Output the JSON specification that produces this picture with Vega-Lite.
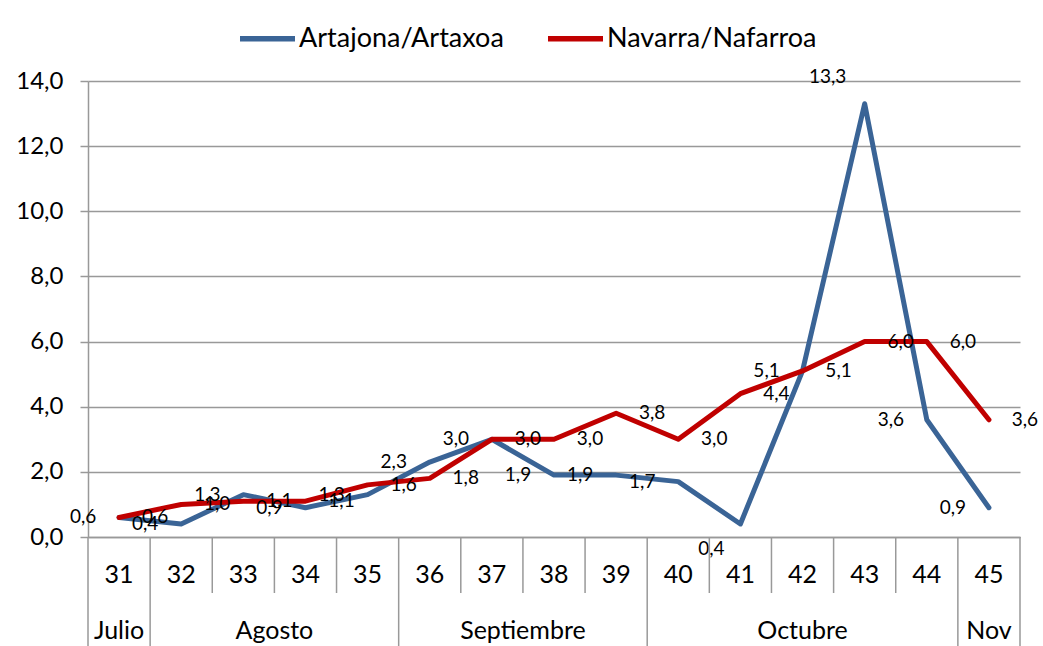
{
  "$schema": "https://vega.github.io/schema/vega-lite/v6.json",
  "padding": {"left": 15, "top": 8, "right": 0, "bottom": 0},
  "bounds": "flush",
  "spacing": 0,
  "config": {
    "locale": {"number": {"decimal": ",", "thousands": ".", "grouping": [3], "currency": ["", " €"]}},
    "view": {"stroke": null},
    "font": "Lato",
    "text": {"font": "Lato", "color": "black"}
  },
  "datasets": {
    "series": [
      {"week": 31, "serie": "Artajona/Artaxoa", "value": 0.6},
      {"week": 32, "serie": "Artajona/Artaxoa", "value": 0.4},
      {"week": 33, "serie": "Artajona/Artaxoa", "value": 1.3},
      {"week": 34, "serie": "Artajona/Artaxoa", "value": 0.9},
      {"week": 35, "serie": "Artajona/Artaxoa", "value": 1.3},
      {"week": 36, "serie": "Artajona/Artaxoa", "value": 2.3},
      {"week": 37, "serie": "Artajona/Artaxoa", "value": 3.0},
      {"week": 38, "serie": "Artajona/Artaxoa", "value": 1.9},
      {"week": 39, "serie": "Artajona/Artaxoa", "value": 1.9},
      {"week": 40, "serie": "Artajona/Artaxoa", "value": 1.7},
      {"week": 41, "serie": "Artajona/Artaxoa", "value": 0.4},
      {"week": 42, "serie": "Artajona/Artaxoa", "value": 5.1},
      {"week": 43, "serie": "Artajona/Artaxoa", "value": 13.3},
      {"week": 44, "serie": "Artajona/Artaxoa", "value": 3.6},
      {"week": 45, "serie": "Artajona/Artaxoa", "value": 0.9},
      {"week": 31, "serie": "Navarra/Nafarroa", "value": 0.6},
      {"week": 32, "serie": "Navarra/Nafarroa", "value": 1.0},
      {"week": 33, "serie": "Navarra/Nafarroa", "value": 1.1},
      {"week": 34, "serie": "Navarra/Nafarroa", "value": 1.1},
      {"week": 35, "serie": "Navarra/Nafarroa", "value": 1.6},
      {"week": 36, "serie": "Navarra/Nafarroa", "value": 1.8},
      {"week": 37, "serie": "Navarra/Nafarroa", "value": 3.0},
      {"week": 38, "serie": "Navarra/Nafarroa", "value": 3.0},
      {"week": 39, "serie": "Navarra/Nafarroa", "value": 3.8},
      {"week": 40, "serie": "Navarra/Nafarroa", "value": 3.0},
      {"week": 41, "serie": "Navarra/Nafarroa", "value": 4.4},
      {"week": 42, "serie": "Navarra/Nafarroa", "value": 5.1},
      {"week": 43, "serie": "Navarra/Nafarroa", "value": 6.0},
      {"week": 44, "serie": "Navarra/Nafarroa", "value": 6.0},
      {"week": 45, "serie": "Navarra/Nafarroa", "value": 3.6}
    ],
    "weeks": [
      {"week": 31, "month": "Julio"},
      {"week": 32, "month": "Agosto"},
      {"week": 33, "month": "Agosto"},
      {"week": 34, "month": "Agosto"},
      {"week": 35, "month": "Agosto"},
      {"week": 36, "month": "Septiembre"},
      {"week": 37, "month": "Septiembre"},
      {"week": 38, "month": "Septiembre"},
      {"week": 39, "month": "Septiembre"},
      {"week": 40, "month": "Octubre"},
      {"week": 41, "month": "Octubre"},
      {"week": 42, "month": "Octubre"},
      {"week": 43, "month": "Octubre"},
      {"week": 44, "month": "Octubre"},
      {"week": 45, "month": "Nov"}
    ]
  },
  "vconcat": [
    {
      "width": 932,
      "height": 456,
      "data": {"name": "series"},
      "encoding": {
        "x": {
          "field": "week", "type": "ordinal", "bandPosition": 0.5,
          "scale": {"paddingInner": 0, "paddingOuter": 0},
          "axis": {"labels": false, "ticks": false, "title": null, "grid": false, "domainColor": "#999999", "domainWidth": 1.5}
        },
        "y": {
          "field": "value", "type": "quantitative",
          "scale": {"domain": [0, 14], "nice": false},
          "axis": {
            "values": [0, 2, 4, 6, 8, 10, 12, 14], "format": ".1f", "title": null,
            "labelFontSize": 24, "labelPadding": 17, "labelColor": "black", "labelFont": "Lato",
            "tickSize": 8, "tickColor": "#999999", "tickWidth": 1.5,
            "domainColor": "#999999", "domainWidth": 1.5,
            "gridColor": "#999999", "gridWidth": 1.5
          }
        }
      },
      "layer": [
        {
          "mark": {"type": "line", "strokeWidth": 5, "strokeJoin": "round", "strokeCap": "round"},
          "encoding": {
            "color": {
              "field": "serie", "type": "nominal",
              "scale": {"domain": ["Artajona/Artaxoa", "Navarra/Nafarroa"], "range": ["#3A6496", "#C00000"]},
              "legend": {
                "orient": "none", "legendX": 149, "legendY": -73,
                "title": null, "direction": "horizontal",
                "symbolType": "stroke", "symbolSize": 3025, "symbolStrokeWidth": 5.5,
                "labelFontSize": 27, "labelFont": "Lato", "labelColor": "black", "labelOffset": 1,
                "labelLimit": 0, "columnPadding": 33
              }
            }
          }
        },
        {
          "transform": [{"filter": "datum.serie == 'Artajona/Artaxoa' && datum.week != 41 && datum.week != 43"}],
          "mark": {"type": "text", "dx": -36, "fontSize": 19},
          "encoding": {"text": {"field": "value", "type": "quantitative", "format": ".1f"}}
        },
        {
          "transform": [{"filter": "datum.serie == 'Artajona/Artaxoa' && datum.week == 41"}],
          "mark": {"type": "text", "dx": -29, "dy": 25, "fontSize": 19},
          "encoding": {"text": {"field": "value", "type": "quantitative", "format": ".1f"}}
        },
        {
          "transform": [{"filter": "datum.serie == 'Artajona/Artaxoa' && datum.week == 43"}],
          "mark": {"type": "text", "dx": -37, "dy": -27, "fontSize": 19},
          "encoding": {"text": {"field": "value", "type": "quantitative", "format": ".1f"}}
        },
        {
          "transform": [{"filter": "datum.serie == 'Navarra/Nafarroa'"}],
          "mark": {"type": "text", "dx": 36, "fontSize": 19},
          "encoding": {"text": {"field": "value", "type": "quantitative", "format": ".1f"}}
        }
      ]
    },
    {
      "width": 932,
      "height": 56,
      "data": {"name": "weeks"},
      "layer": [
        {
          "mark": {"type": "text", "fontSize": 25, "dy": 10},
          "encoding": {
            "x": {"field": "week", "type": "ordinal", "bandPosition": 0.5, "scale": {"domain": [31, 32, 33, 34, 35, 36, 37, 38, 39, 40, 41, 42, 43, 44, 45], "paddingInner": 0, "paddingOuter": 0}, "axis": null},
            "text": {"field": "week", "type": "nominal"}
          }
        },
        {
          "mark": {"type": "rule", "color": "#999999", "strokeWidth": 1.5},
          "encoding": {
            "x": {"field": "week", "type": "ordinal", "bandPosition": 0, "scale": {"domain": [31, 32, 33, 34, 35, 36, 37, 38, 39, 40, 41, 42, 43, 44, 45], "paddingInner": 0, "paddingOuter": 0}, "axis": null}
          }
        },
        {
          "transform": [{"filter": "datum.week == 45"}],
          "mark": {"type": "rule", "color": "#999999", "strokeWidth": 1.5},
          "encoding": {
            "x": {"field": "week", "type": "ordinal", "bandPosition": 1, "scale": {"domain": [31, 32, 33, 34, 35, 36, 37, 38, 39, 40, 41, 42, 43, 44, 45], "paddingInner": 0, "paddingOuter": 0}, "axis": null}
          }
        }
      ]
    },
    {
      "width": 932,
      "height": 54,
      "data": {"name": "weeks"},
      "layer": [
        {
          "mark": {"type": "text", "fontSize": 25, "dy": 11},
          "encoding": {
            "x": {"aggregate": "mean", "field": "week", "type": "quantitative", "scale": {"domain": [30.5, 45.5], "nice": false, "zero": false}, "axis": null},
            "text": {"field": "month", "type": "nominal"}
          }
        },
        {
          "transform": [
            {"joinaggregate": [{"op": "min", "field": "week", "as": "first"}], "groupby": ["month"]},
            {"filter": "datum.week == datum.first"}
          ],
          "mark": {"type": "rule", "color": "#999999", "strokeWidth": 1.5},
          "encoding": {
            "x": {"field": "week", "type": "ordinal", "bandPosition": 0, "scale": {"domain": [31, 32, 33, 34, 35, 36, 37, 38, 39, 40, 41, 42, 43, 44, 45], "paddingInner": 0, "paddingOuter": 0}, "axis": null}
          }
        },
        {
          "transform": [{"filter": "datum.week == 45"}],
          "mark": {"type": "rule", "color": "#999999", "strokeWidth": 1.5},
          "encoding": {
            "x": {"field": "week", "type": "ordinal", "bandPosition": 1, "scale": {"domain": [31, 32, 33, 34, 35, 36, 37, 38, 39, 40, 41, 42, 43, 44, 45], "paddingInner": 0, "paddingOuter": 0}, "axis": null}
          }
        }
      ],
      "resolve": {"scale": {"x": "independent"}}
    }
  ]
}
